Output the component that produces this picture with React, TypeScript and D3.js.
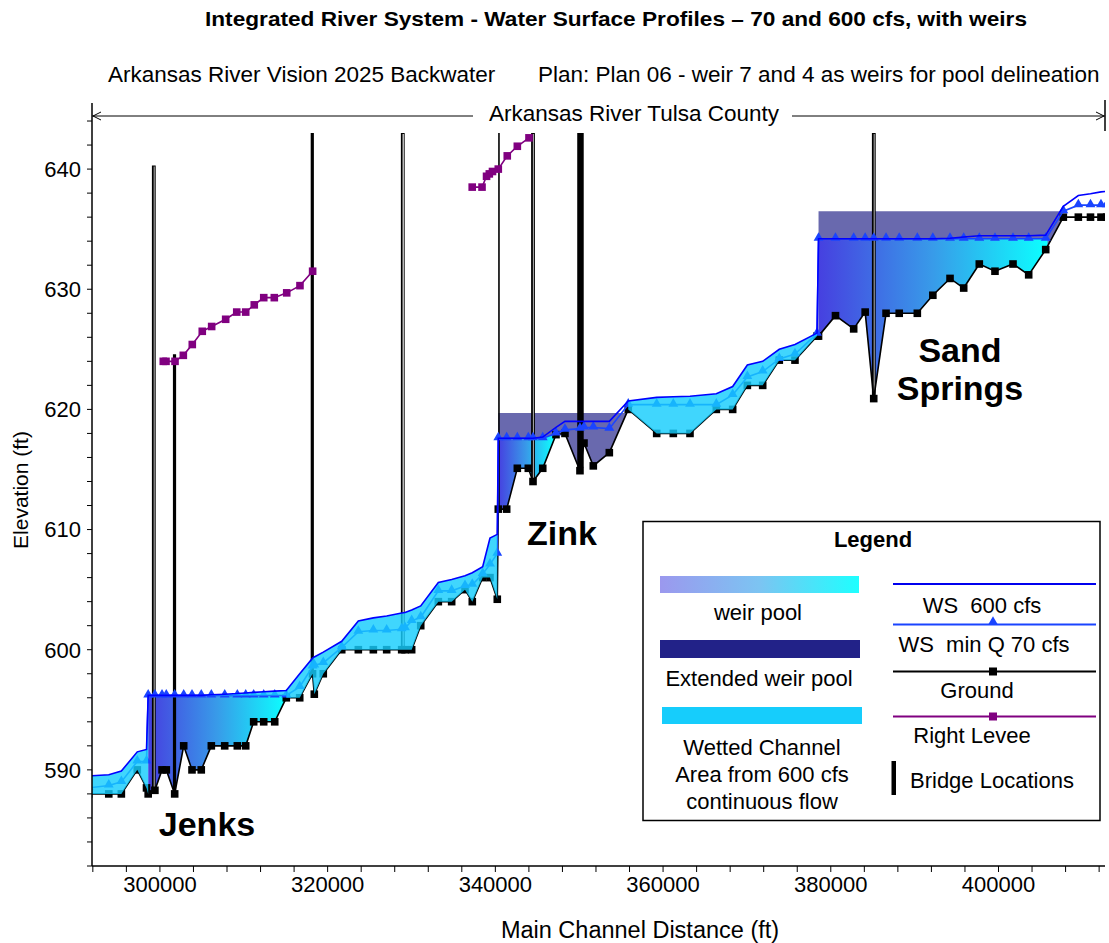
import React from "react";
import * as d3 from "d3";

// ---------------- DATA ----------------
const stations = [
  291500, 293900, 295400, 297300, 298400, 298600, 299400, 300250, 300760, 301760,
  302835, 303825, 304930, 306130, 307725, 309230, 310230, 311180, 312375, 313690,
  315070, 316670, 318200, 318410, 319480, 321680, 323660, 325450, 327040, 328830,
  329230, 330020, 331100, 333200, 334790, 336380, 337250, 338490, 339360, 340230,
  340350, 341350, 342620, 343930, 344490, 345650, 347230, 348300, 350090, 350570,
  351680, 353590, 355850, 359240, 361220, 363210, 366350, 368300, 370050, 371880,
  373860, 375730, 378360, 378540, 380560, 382730, 384100, 385120, 386590, 388160,
  390320, 392170, 394220, 395850, 397710, 399580, 401730, 403600, 405630, 407730,
  409520, 410970, 412220, 412900,
];
const groundElev = [
  588, 588, 588, 590, 588.5, 588, 588.3, 590, 590, 588,
  592, 590, 590, 592, 592, 592, 592, 594, 594, 594,
  596, 596, 598, 596.3, 598, 600, 600, 600, 600, 600,
  600, 600, 602, 604, 604, 605, 604, 606, 606, 604.2,
  611.7, 611.7, 615.1, 615.1, 614, 615.1, 617.9, 618, 614.9, 617.2,
  615.3, 616.4, 620, 618, 618, 618, 620, 620, 622, 622,
  624.1, 624.1, 626.1, 626.1, 627.8, 626.7, 628.1, 620.9, 628, 628,
  628, 629.5, 630.9, 630.1, 632.1, 631.5, 632.1, 631.2, 633.3, 636,
  636, 636, 636, 636,
];
const ws70Elev = [
  588.5, 588.7, 589.0, 590.7, 590.7, 596.2, 596.2, 596.2, 596.2, 596.2,
  596.2, 596.2, 596.2, 596.2, 596.2, 596.2, 596.2, 596.2, 596.2, 596.2,
  596.2, 596.9, 598.6, 598.7, 598.9, 600.2, 601.5, 601.6, 601.6, 601.7,
  601.8, 602.4, 602.7, 604.9, 604.9, 605.3, 605.4, 606.3, 607.1, 608.0,
  617.6, 617.6, 617.6, 617.6, 617.6, 617.6, 618.0, 618.3, 618.4, 618.5,
  618.5, 618.4, 620.4, 620.4, 620.4, 620.4, 620.4, 621.2, 622.7, 623.15,
  624.2, 624.6, 626.3, 634.2, 634.2, 634.2, 634.2, 634.2, 634.2, 634.2,
  634.2, 634.2, 634.2, 634.2, 634.2, 634.2, 634.2, 634.2, 634.2, 636.5,
  637, 637, 637, 637,
];
const ws600Elev = [
  589.5, 589.6, 589.9, 591.5, 591.7, 596.2, 596.2, 596.2, 596.2, 596.2,
  596.2, 596.2, 596.2, 596.25, 596.3, 596.35, 596.4, 596.45, 596.5, 596.55,
  596.6, 598.0, 599.3, 599.4, 599.8, 600.7, 602.4, 602.65, 602.8, 603.05,
  603.1, 603.3, 603.65, 605.6, 605.85, 606.15, 606.4, 606.9, 609.3, 609.6,
  617.6, 617.6, 617.6, 617.6, 617.6, 617.7, 618.5, 619.0, 619.0, 619.0,
  619.0, 619.0, 620.7, 621.0, 621.05, 621.1, 621.3, 621.9, 623.7, 624.0,
  625.0, 625.4, 626.35, 634.2, 634.2, 634.2, 634.2, 634.2, 634.2, 634.2,
  634.2, 634.2, 634.25, 634.35, 634.45, 634.45, 634.45, 634.45, 634.5, 636.9,
  637.8, 637.95, 638.1, 638.15,
];

const levee1Sta = [300400, 300725, 301800, 302790, 303860, 305050, 306170, 307840, 309160, 310230, 311250, 312380, 313640, 315120, 316700, 318210];
const levee1Elev = [624.0, 624.0, 624.0, 624.5, 625.4, 626.5, 626.9, 627.5, 628.1, 628.1, 628.7, 629.3, 629.3, 629.7, 630.3, 631.5];
const levee2Sta = [337240, 338410, 338950, 339280, 339660, 340350, 341420, 342620, 344010];
const levee2Elev = [638.5, 638.5, 639.4, 639.6, 639.8, 640.0, 641.1, 641.9, 642.6];

const bridgeSta = [299270, 301740, 318170, 328960, 340430, 344490, 350150, 385130];
const bridgeTop = [640.3, 624.6, 643, 643, 643, 643, 643, 643];
const bridgeKind = ["grayDouble", "solid", "solid", "double", "thin", "grayDouble", "heavy", "grayDouble"];

// weir pool (gradient) station ranges
const weirPoolStart = [298600, 340350, 378540];
const weirPoolEnd = [315070, 347060, 405850];
// extended weir pools
const extStart = [340350, 378540];
const extEnd = [355650, 407330];
const extLevel = [619.7, 636.5];
// wetted channel ranges (bottom: ground or ws70)
const wetStart = [291500, 298600, 315070, 355850];
const wetEnd = [298600, 315070, 340230, 378360];
const wetBottom = ["ground", "ws70", "ground", "ground"];

const xTicks = d3.range(292000, 412701, 4000);
const xLabels = [300000, 320000, 340000, 360000, 380000, 400000];
const yTicks = d3.range(582, 645, 2);
const yLabels = [590, 600, 610, 620, 630, 640];

const places = [
  { text: ["Jenks"], x: 207, y: 836 },
  { text: ["Zink"], x: 562, y: 545 },
  { text: ["Sand", "Springs"], x: 960, y: 362 },
];

const FONT = "'Liberation Sans', Arial, Helvetica, sans-serif";

function interp(xs: number[], vs: number[], s: number) {
  if (s <= xs[0]) return vs[0];
  for (let i = 1; i < xs.length; i++) {
    if (s <= xs[i]) {
      const t = (s - xs[i - 1]) / (xs[i] - xs[i - 1]);
      return vs[i - 1] + t * (vs[i] - vs[i - 1]);
    }
  }
  return vs[vs.length - 1];
}

export default function App() {
  const L = 92, R = 1105, T = 103, B = 866;
  const x = d3.scaleLinear().domain([291900, 412700]).range([L, R]);
  const y = d3.scaleLinear().domain([582, 645.5]).range([B, T]);

  const g = (s: number) => interp(stations, groundElev, s);
  const w70 = (s: number) => interp(stations, ws70Elev, s);
  const w600 = (s: number) => interp(stations, ws600Elev, s);

  const band = (a: number, b: number, top: (s: number) => number, bot: (s: number) => number) => {
    const ss = [a, ...stations.filter((s) => s > a && s < b), b];
    const pts = ss.map((s) => [x(s), y(top(s))]).concat(ss.slice().reverse().map((s) => [x(s), y(bot(s))]));
    return "M" + pts.map((p) => p[0].toFixed(2) + "," + p[1].toFixed(2)).join("L") + "Z";
  };

  const line = d3.line<number>().x((_, i) => x(stations[i])).y((v) => y(v));
  const leveeLine = (sta: number[]) => d3.line<number>().x((_, i) => x(sta[i])).y((v) => y(v));
  const tri = d3.symbol(d3.symbolTriangle, 42)() as string;

  const wetColor = "#16cdfc";
  const GS = 7.6; // ground square
  const LS = 7.6; // levee square

  return (
    <svg width={1109} height={943} style={{ display: "block", position: "absolute", left: 0, top: 0, background: "#fff" }} fontFamily={FONT}>
      <defs>
        <clipPath id="plot">
          <rect x={L} y={T} width={R - L} height={B - T} />
        </clipPath>
        <linearGradient id="pool" x1="0" x2="1" y1="0" y2="0">
          <stop offset="0" stopColor="#4640e0" />
          <stop offset="0.5" stopColor="#389be9" />
          <stop offset="1" stopColor="#0cffff" />
        </linearGradient>
        <linearGradient id="poolLeg" x1="0" x2="1" y1="0" y2="0">
          <stop offset="0" stopColor="#9b98ee" />
          <stop offset="0.5" stopColor="#7cc4f2" />
          <stop offset="1" stopColor="#1effff" />
        </linearGradient>
      </defs>

      {/* titles */}
      <text x={616} y={26} textAnchor="middle" fontWeight="bold" fontSize={20.5} textLength={822} lengthAdjust="spacingAndGlyphs">
        Integrated River System - Water Surface Profiles – 70 and 600 cfs, with weirs
      </text>
      <text x={108} y={82} fontSize={22.5}>Arkansas River Vision 2025 Backwater</text>
      <text x={538} y={82} fontSize={22.5}>Plan: Plan 06 - weir 7 and 4 as weirs for pool delineation</text>

      <g clipPath="url(#plot)">
        {/* extended weir pools */}
        {extStart.map((a, i) => (
          <path key={"ext" + i} d={band(a, extEnd[i], () => extLevel[i], g)} fill="#222288" fillOpacity={0.68} />
        ))}
        {/* weir pools */}
        {weirPoolStart.map((a, i) => (
          <path key={"wp" + i} d={band(a, weirPoolEnd[i], w70, g)} fill="url(#pool)" />
        ))}
        {/* bridges */}
        {bridgeSta.map((s, i) => {
          const xb = x(s);
          const y1 = y(bridgeTop[i]);
          const y2 = y(g(s));
          const k = bridgeKind[i];
          if (k === "solid") return <line key={"b" + i} x1={xb} x2={xb} y1={y1} y2={y2} stroke="#000" strokeWidth={3.2} />;
          if (k === "thin") return <line key={"b" + i} x1={xb} x2={xb} y1={y1} y2={y2} stroke="#000" strokeWidth={1.6} />;
          if (k === "heavy") return <line key={"b" + i} x1={xb} x2={xb} y1={y1} y2={y2} stroke="#000" strokeWidth={6.5} />;
          const inner = k === "double" ? "#ffffff" : "#a8a8a8";
          return (
            <g key={"b" + i}>
              <line x1={xb} x2={xb} y1={y1} y2={y2} stroke="#000" strokeWidth={3.8} />
              <line x1={xb + 0.4} x2={xb + 0.4} y1={y1 + 1} y2={y2} stroke={inner} strokeWidth={1.1} />
            </g>
          );
        })}
        {/* ground */}
        <path d={line(groundElev) as string} fill="none" stroke="#000" strokeWidth={1.6} />
        {stations.map((s, i) => (
          <rect key={"gm" + i} x={x(s) - GS / 2} y={y(groundElev[i]) - GS / 2} width={GS} height={GS} fill="#000" />
        ))}
        {/* WS 70 */}
        <path d={line(ws70Elev) as string} fill="none" stroke="#1a44ff" strokeWidth={1.6} />
        {stations.map((s, i) => (
          <path key={"tm" + i} d={tri} transform={`translate(${x(s)},${y(ws70Elev[i]) - 0.8})`} fill="#1a44ff" />
        ))}
        {/* wetted channel */}
        {wetStart.map((a, i) => (
          <path key={"wet" + i} d={band(a, wetEnd[i], w600, wetBottom[i] === "ground" ? g : w70)} fill={wetColor} fillOpacity={0.82} />
        ))}
        {/* WS 600 */}
        <path d={line(ws600Elev) as string} fill="none" stroke="#0000ff" strokeWidth={1.6} />
        {/* levee */}
        {[
          [levee1Sta, levee1Elev],
          [levee2Sta, levee2Elev],
        ].map(([sta, el], j) => (
          <g key={"lv" + j}>
            <path d={leveeLine(sta)(el) as string} fill="none" stroke="#800080" strokeWidth={1.6} />
            {sta.map((s, i) => (
              <rect key={i} x={x(s) - LS / 2} y={y(el[i]) - LS / 2} width={LS} height={LS} fill="#800080" />
            ))}
          </g>
        ))}
      </g>

      {/* place labels */}
      {places.map((p, i) => (
        <text key={"pl" + i} x={p.x} y={p.y} textAnchor="middle" fontWeight="bold" fontSize={34}>
          {p.text.map((t, j) => (
            <tspan key={j} x={p.x} dy={j === 0 ? 0 : 38}>{t}</tspan>
          ))}
        </text>
      ))}

      {/* river reach annotation */}
      <line x1={L} x2={473} y1={116} y2={116} stroke="#000" strokeWidth={1} />
      <line x1={792} x2={R} y1={116} y2={116} stroke="#000" strokeWidth={1} />
      <path d={`M${L + 9},${112}L${L + 1},${116}L${L + 9},${120}`} fill="none" stroke="#000" strokeWidth={1} />
      <path d={`M${R - 9},${112}L${R - 1},${116}L${R - 9},${120}`} fill="none" stroke="#000" strokeWidth={1} />
      <line x1={R} x2={R} y1={100} y2={131} stroke="#000" strokeWidth={1.5} />
      <text x={634} y={121} textAnchor="middle" fontSize={22.5}>Arkansas River Tulsa County</text>

      {/* axes */}
      <line x1={L} x2={L} y1={T} y2={B} stroke="#000" strokeWidth={1.5} />
      <line x1={L} x2={R} y1={B} y2={B} stroke="#000" strokeWidth={1.5} />
      {yTicks.map((t) => (
        <line key={"yt" + t} x1={L - 5} x2={L} y1={y(t)} y2={y(t)} stroke="#000" strokeWidth={1} />
      ))}
      {yLabels.map((t) => (
        <text key={"yl" + t} x={81} y={y(t)} dy="0.36em" textAnchor="end" fontSize={22}>{t}</text>
      ))}
      {xTicks.map((t) => (
        <line key={"xt" + t} x1={x(t)} x2={x(t)} y1={B} y2={B + 6} stroke="#000" strokeWidth={1} />
      ))}
      {xLabels.map((t) => (
        <text key={"xl" + t} x={x(t)} y={892} textAnchor="middle" fontSize={22}>{t}</text>
      ))}
      <text x={640} y={938} textAnchor="middle" fontSize={23.5}>Main Channel Distance (ft)</text>
      <text transform={`translate(28,490) rotate(-90)`} textAnchor="middle" fontSize={21}>Elevation (ft)</text>

      {/* legend */}
      <g>
        <rect x={643} y={521.5} width={457} height={299} fill="#fff" stroke="#000" strokeWidth={1.5} />
        <text x={873} y={547} textAnchor="middle" fontWeight="bold" fontSize={22}>Legend</text>
        <rect x={660} y={576} width={199} height={17} fill="url(#poolLeg)" />
        <text x={758} y={620} textAnchor="middle" fontSize={22}>weir pool</text>
        <rect x={660} y={640} width={200} height={18} fill="#222288" />
        <text x={759} y={686} textAnchor="middle" fontSize={22}>Extended weir pool</text>
        <rect x={662} y={707} width={200} height={17} fill={wetColor} />
        <text x={762} y={755} textAnchor="middle" fontSize={22}>Wetted Channel</text>
        <text x={762} y={782} textAnchor="middle" fontSize={22}>Area from 600 cfs</text>
        <text x={762} y={809} textAnchor="middle" fontSize={22}>continuous flow</text>

        <line x1={893} x2={1096} y1={584} y2={584} stroke="#0000ee" strokeWidth={2} />
        <text x={982} y={613} textAnchor="middle" fontSize={22} style={{ whiteSpace: "pre" }}>WS  600 cfs</text>
        <line x1={893} x2={1096} y1={624.5} y2={624.5} stroke="#1a44ff" strokeWidth={2} />
        <path d={tri} transform="translate(993,622)" fill="#1a44ff" />
        <text x={984} y={652} textAnchor="middle" fontSize={22} style={{ whiteSpace: "pre" }}>WS  min Q 70 cfs</text>
        <line x1={893} x2={1096} y1={671.5} y2={671.5} stroke="#000" strokeWidth={2} />
        <rect x={989} y={667.5} width={8} height={8} fill="#000" />
        <text x={977} y={698} textAnchor="middle" fontSize={22}>Ground</text>
        <line x1={893} x2={1096} y1={716.5} y2={716.5} stroke="#800080" strokeWidth={2} />
        <rect x={989} y={712.5} width={8} height={8} fill="#800080" />
        <text x={972} y={743} textAnchor="middle" fontSize={22}>Right Levee</text>
        <rect x={891.5} y={761} width={4.5} height={34} fill="#000" />
        <text x={910} y={788} fontSize={22}>Bridge Locations</text>
      </g>
    </svg>
  );
}
